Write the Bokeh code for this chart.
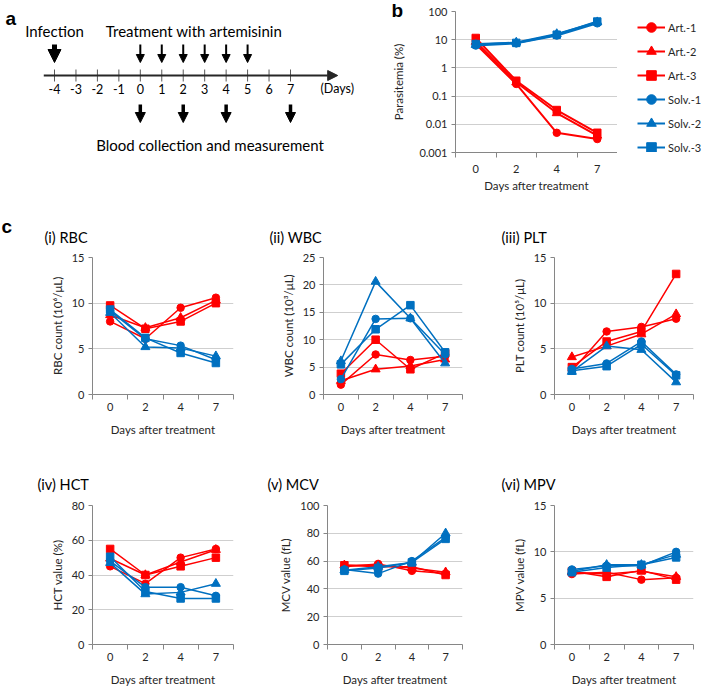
from bokeh.plotting import figure
from bokeh.layouts import column, row
from bokeh.models import (Range1d, FixedTicker, Arrow, NormalHead, Label, Legend,
                          LegendItem, ColumnDataSource, CustomJSTickFormatter)
from bokeh.core.properties import value
from bokeh.embed import file_html
from bokeh.resources import INLINE

FONT = "Lato"
BOLD_FONT = "Liberation Sans"
RED = "#FF0000"
BLUE = "#0070C0"
AXIS_GREY = "#868686"
GRID_GREY = "#CFCFCF"
TEXT = "#262626"

# ---------------- data ----------------
timeline_days = list(range(-4, 8))
infection_day = -4
treatment_days = [0, 1, 2, 3, 4, 5]
blood_days = [0, 2, 4, 7]

days = [0, 2, 4, 7]
series_names = ["Art.-1", "Art.-2", "Art.-3", "Solv.-1", "Solv.-2", "Solv.-3"]
series_markers = ["circle", "triangle", "square", "circle", "triangle", "square"]
series_colors = [RED, RED, RED, BLUE, BLUE, BLUE]

parasitemia = {
    "Art.-1": [7.0, 0.27, 0.005, 0.003],
    "Art.-2": [8.5, 0.31, 0.025, 0.004],
    "Art.-3": [11.5, 0.35, 0.032, 0.005],
    "Solv.-1": [6.2, 7.4, 14, 38],
    "Solv.-2": [6.6, 8.0, 16, 42],
    "Solv.-3": [7.0, 7.7, 15, 44],
}
parasitemia_ticks = [0.001, 0.01, 0.1, 1, 10, 100]

rbc = {
    "Art.-1": [8.0, 6.1, 9.5, 10.6],
    "Art.-2": [8.7, 7.3, 8.4, 10.3],
    "Art.-3": [9.75, 7.2, 8.0, 10.0],
    "Solv.-1": [9.15, 6.1, 5.35, 3.8],
    "Solv.-2": [8.95, 5.2, 5.1, 4.2],
    "Solv.-3": [9.3, 6.2, 4.55, 3.45],
}
wbc = {
    "Art.-1": [1.8, 7.3, 6.3, 7.0],
    "Art.-2": [2.5, 4.6, 5.2, 6.4],
    "Art.-3": [3.8, 10.0, 4.6, 7.5],
    "Solv.-1": [2.8, 13.8, 13.9, 7.3],
    "Solv.-2": [6.1, 20.6, 13.9, 5.7],
    "Solv.-3": [5.5, 11.9, 16.3, 7.7],
}
plt_ = {
    "Art.-1": [2.6, 6.9, 7.4, 8.3],
    "Art.-2": [4.1, 5.3, 6.6, 8.8],
    "Art.-3": [3.0, 5.8, 6.9, 13.2],
    "Solv.-1": [2.8, 3.4, 5.8, 2.2],
    "Solv.-2": [2.5, 5.3, 4.9, 1.35],
    "Solv.-3": [2.6, 3.1, 5.5, 2.1],
}
hct = {
    "Art.-1": [45, 35, 50, 55],
    "Art.-2": [49.5, 40, 47.5, 54.5],
    "Art.-3": [55, 40, 45, 50],
    "Solv.-1": [48, 33, 33, 28],
    "Solv.-2": [47, 29, 30, 35],
    "Solv.-3": [50.5, 30.5, 26.5, 26.5],
}
mcv = {
    "Art.-1": [56, 58, 53, 51],
    "Art.-2": [57, 57, 55, 52],
    "Art.-3": [57, 56, 56, 50],
    "Solv.-1": [54, 51, 60, 77],
    "Solv.-2": [53.5, 56, 59, 80],
    "Solv.-3": [53, 55, 59, 76],
}
mpv = {
    "Art.-1": [7.6, 7.8, 7.0, 7.2],
    "Art.-2": [7.8, 7.6, 7.9, 7.3],
    "Art.-3": [7.9, 7.3, 8.0, 7.0],
    "Solv.-1": [8.1, 8.5, 8.5, 10.0],
    "Solv.-2": [7.9, 8.6, 8.6, 9.7],
    "Solv.-3": [7.8, 8.3, 8.6, 9.4],
}

# ---------------- helpers ----------------
def base_fig(width, height, left, right, top, bottom, **kw):
    p = figure(width=width, height=height, output_backend="svg", toolbar_location=None,
               min_border_left=left, min_border_right=right,
               min_border_top=top, min_border_bottom=bottom, **kw)
    p.outline_line_color = None
    p.background_fill_color = "white"
    p.border_fill_color = "white"
    return p


def side_letter(p, text, x, y, side="left"):
    p.add_layout(Label(x=x, y=y, x_units="screen", y_units="screen", text=text,
                       text_font=BOLD_FONT, text_font_style="bold",
                       text_font_size="19px", text_color="black",
                       text_baseline="alphabetic"), side)


def style_axes(p, y_ticks, y_label, x_std, x_lbl_std, y_lbl_std):
    xs = list(range(len(days)))
    p.x_range = Range1d(-0.5, len(days) - 0.5)
    p.xaxis.ticker = FixedTicker(ticks=xs, minor_ticks=[i - 0.5 for i in range(len(days) + 1)])
    p.xaxis.major_label_overrides = {i: str(d) for i, d in enumerate(days)}
    p.xaxis.major_tick_out = 0
    p.xaxis.major_tick_in = 0
    p.xaxis.minor_tick_out = 5
    p.xaxis.minor_tick_in = 0
    p.xaxis.minor_tick_line_color = AXIS_GREY
    p.xaxis.axis_line_color = AXIS_GREY
    p.xaxis.major_label_standoff = x_std
    p.xaxis.axis_label = "Days after treatment"
    p.xaxis.axis_label_standoff = x_lbl_std
    p.yaxis.ticker = FixedTicker(ticks=y_ticks)
    p.yaxis.major_tick_out = 4
    p.yaxis.major_tick_in = 0
    p.yaxis.minor_tick_out = 0
    p.yaxis.minor_tick_in = 0
    p.yaxis.major_tick_line_color = AXIS_GREY
    p.yaxis.axis_line_color = AXIS_GREY
    p.yaxis.major_label_standoff = 4
    p.yaxis.axis_label = y_label
    p.yaxis.axis_label_standoff = y_lbl_std
    for ax in (p.xaxis, p.yaxis):
        ax.major_label_text_font = FONT
        ax.major_label_text_font_size = "11px"
        ax.major_label_text_color = TEXT
        ax.axis_label_text_font = FONT
        ax.axis_label_text_font_size = "11.5px"
        ax.axis_label_text_font_style = "normal"
        ax.axis_label_text_color = TEXT
    p.xgrid.visible = False
    p.ygrid.grid_line_color = GRID_GREY
    p.ygrid.grid_line_width = 1


def marker_size(mk):
    return 9 if mk == "triangle" else 7.5


def draw_series(p, data, lw=1.5):
    xs = list(range(len(days)))
    rends = []
    for name, mk, col in zip(series_names, series_markers, series_colors):
        vals = data[name]
        lr = p.line(xs, vals, line_color=col, line_width=lw)
        sr = p.scatter(xs, vals, marker=mk, size=marker_size(mk), fill_color=col, line_color=col)
        rends.append((name, lr, sr))
    return rends


# ---------------- row 1 geometry ----------------
ROW1_H = 214
R1_TOP, R1_BOTTOM = 11, 62          # frame borders shared by panels a and b

# ---------------- panel a : timeline ----------------
A_W = 368
px_per_day = (290 - 54) / 11.0
ax0 = timeline_days[0] - 54 / px_per_day
fa = base_fig(A_W, ROW1_H, 0, 0, R1_TOP, R1_BOTTOM,
              x_range=Range1d(ax0, ax0 + A_W / px_per_day),
              y_range=Range1d(-77, 64))
fa.axis.visible = False
fa.grid.visible = False

fa.add_layout(Arrow(x_start=timeline_days[0] - 0.5, y_start=0,
                    x_end=timeline_days[-1] + 2.2, y_end=0,
                    line_width=2, line_color=TEXT,
                    end=NormalHead(size=10, fill_color=TEXT, line_color=TEXT)))
fa.segment(x0=timeline_days, y0=[-6] * len(timeline_days), x1=timeline_days,
           y1=[6] * len(timeline_days), line_color="#595959", line_width=1)
fa.text(x=timeline_days, y=[-13] * len(timeline_days), text=[str(d) for d in timeline_days],
        text_font=value(FONT), text_font_size="12.5px", text_align="center",
        text_baseline="middle", text_color="black")
fa.text(x=[timeline_days[-1] + 1.4], y=[-13], text=["(Days)"],
        text_font=value(FONT), text_font_size="12.5px", text_align="left",
        text_baseline="middle", text_color="black")

fa.add_layout(Arrow(x_start=infection_day, y_start=31, x_end=infection_day, y_end=13,
                    line_width=5, line_color="black",
                    end=NormalHead(size=13, fill_color="black", line_color="black")))
t_src = ColumnDataSource(dict(x=treatment_days, y0=[31] * len(treatment_days),
                              y1=[13] * len(treatment_days)))
fa.add_layout(Arrow(source=t_src, x_start="x", y_start="y0", x_end="x", y_end="y1",
                    line_width=2, line_color="black",
                    end=NormalHead(size=8, fill_color="black", line_color="black")))
b_src = ColumnDataSource(dict(x=blood_days, y0=[-29] * len(blood_days),
                              y1=[-47] * len(blood_days)))
fa.add_layout(Arrow(source=b_src, x_start="x", y_start="y0", x_end="x", y_end="y1",
                    line_width=3.5, line_color="black",
                    end=NormalHead(size=10, fill_color="black", line_color="black")))

fa.text(x=[infection_day], y=[45], text=["Infection"], text_font=value(FONT),
        text_font_size="15px", text_align="center", text_baseline="middle", text_color="black")
fa.text(x=[sum(treatment_days) / len(treatment_days)], y=[45], text=["Treatment with artemisinin"],
        text_font=value(FONT), text_font_size="15px", text_align="center",
        text_baseline="middle", text_color="black")
fa.text(x=[sum(blood_days) / len(blood_days)], y=[-69], text=["Blood collection and measurement"],
        text_font=value(FONT), text_font_size="15px", text_align="center",
        text_baseline="middle", text_color="black")
fa.text(x=[ax0 + 5 / px_per_day], y=[57], text=["a"], text_font=value(BOLD_FONT),
        text_font_style="bold", text_font_size="19px", text_align="left",
        text_baseline="alphabetic", text_color="black")

# ---------------- panel b : parasitemia ----------------
fb = base_fig(249, ROW1_H, 87, 0, R1_TOP, R1_BOTTOM, y_axis_type="log",
              y_range=Range1d(parasitemia_ticks[0], parasitemia_ticks[-1]))
style_axes(fb, parasitemia_ticks, "Parasitemia (%)", 7, 3, 11)
fb.yaxis.formatter = CustomJSTickFormatter(code="return tick.toString();")
draw_series(fb, parasitemia, lw=2)
side_letter(fb, "b", 14, 142)

# legend panel for b: same series drawn outside its view, used only for the legend
fl = base_fig(90, ROW1_H, 16, 0, R1_TOP, R1_BOTTOM,
              x_range=Range1d(100, 101), y_range=Range1d(1000, 1001))
fl.axis.visible = False
fl.grid.visible = False
leg_items = [LegendItem(label=name, renderers=[lr, sr])
             for name, lr, sr in draw_series(fl, parasitemia, lw=2)]
legend = Legend(items=leg_items, location="top_left", border_line_color=None,
                background_fill_alpha=0, glyph_width=28, glyph_height=24,
                label_height=24, spacing=0, padding=0, margin=4, label_standoff=3,
                label_text_font=FONT, label_text_font_size="11px", label_text_color=TEXT)
fl.add_layout(legend)

# ---------------- panel c ----------------
row2_specs = [
    ("(i) RBC", rbc, "RBC count (10\u2076/\u03bcL)", [0, 5, 10, 15], 238, 92, 5, -48),
    ("(ii) WBC", wbc, "WBC count (10\u00b3/\u03bcL)", [0, 5, 10, 15, 20, 25], 232, 85, 8, -54),
    ("(iii) PLT", plt_, "PLT count (10\u2075/\u03bcL)", [0, 5, 10, 15], 237, 84, 14, -53),
]
row3_specs = [
    ("(iv) HCT", hct, "HCT value (%)", [0, 20, 40, 60, 80], 238, 92, 5, -55),
    ("(v) MCV", mcv, "MCV value (fL)", [0, 20, 40, 60, 80, 100], 232, 89, 8, -60),
    ("(vi) MPV", mpv, "MPV value (fL)", [0, 5, 10, 15], 237, 84, 14, -53),
]


def make_row(specs, height, top, bottom, standoff):
    figs = []
    for title, data, ylab, yt, w, left, right, tdx in specs:
        p = base_fig(w, height, left, right, top, bottom, y_range=Range1d(yt[0], yt[-1]))
        style_axes(p, yt, ylab, 3, 9, 5)
        draw_series(p, data)
        p.title.text = title
        p.title.align = "left"
        p.title.offset = tdx
        p.title.text_font = FONT
        p.title.text_font_size = "14.5px"
        p.title.text_font_style = "normal"
        p.title.text_color = "black"
        p.title.standoff = standoff
        figs.append(p)
    return figs


row2 = make_row(row2_specs, 226, 43, 46, 24)
side_letter(row2[0], "c", -35, 168)
row3 = make_row(row3_specs, 250, 65, 46, 26)

layout = column(row(fa, fb, fl), row(*row2), row(*row3))
open("out.html", "w").write(file_html(layout, INLINE))
